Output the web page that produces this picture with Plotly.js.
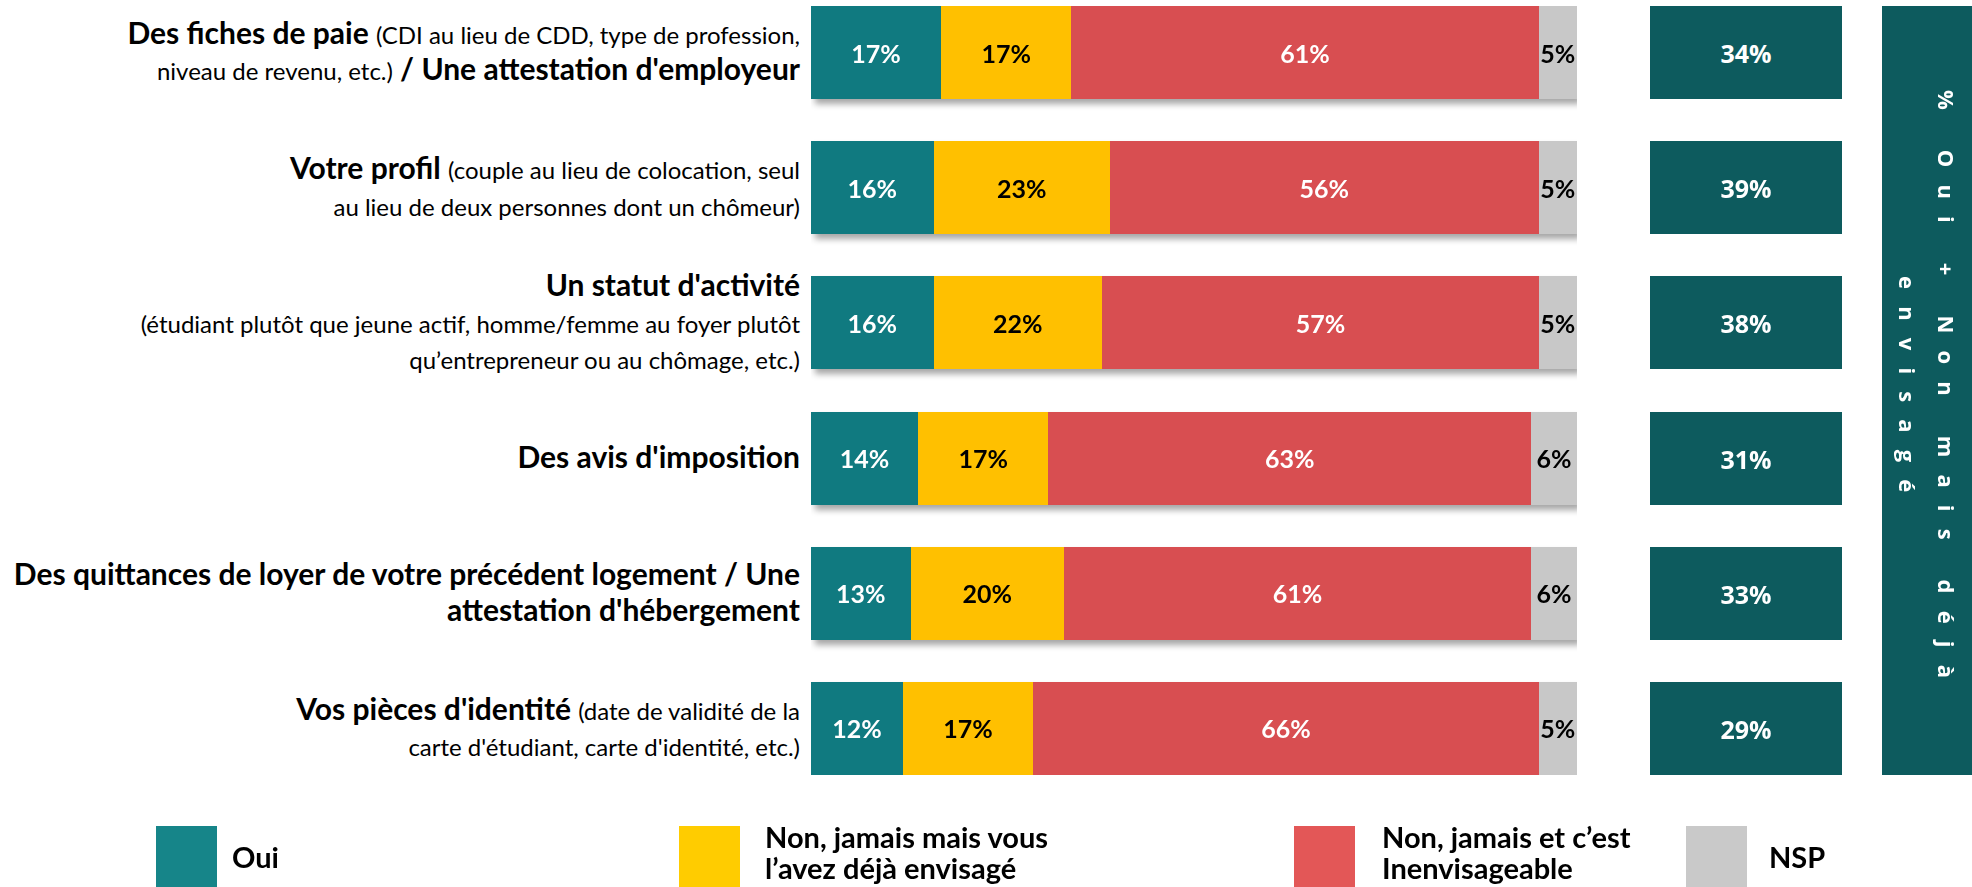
<!DOCTYPE html>
<html>
<head>
<meta charset="utf-8">
<script src="https://cdn.plot.ly/plotly-3.0.1.min.js"></script>
<style>
  html, body { margin: 0; padding: 0; background: #ffffff; }
  #chart { width: 1972px; height: 887px; }
  .cartesianlayer .subplot.xy .barlayer { filter: drop-shadow(4px 5px 3px rgba(0,0,0,0.35)); }
</style>
</head>
<body>
<div id="chart"></div>
<script>
// ---------- DATA ----------
const B = s => "<b><span style='font-size:30px'>" + s + "</span></b>";
const N = s => "<span style='font-size:24px'>" + s + "</span>";
const categories = [
  B("Des fiches de paie") + " " + N("(CDI au lieu de CDD, type de profession,") + "<br>" + N("niveau de revenu, etc.)") + " " + B("/ Une attestation d'employeur"),
  B("Votre profil") + " " + N("(couple au lieu de colocation, seul") + "<br>" + N("au lieu de deux personnes dont un chômeur)"),
  B("Un statut d'activité") + "<br>" + N("(étudiant plutôt que jeune actif, homme/femme au foyer plutôt") + "<br>" + N("qu’entrepreneur ou au chômage, etc.)"),
  B("Des avis d'imposition"),
  B("Des quittances de loyer de votre précédent logement / Une") + "<br>" + B("attestation d'hébergement"),
  B("Vos pièces d'identité") + " " + N("(date de validité de la") + "<br>" + N("carte d'étudiant, carte d'identité, etc.)")
];
const oui            = [17, 16, 16, 14, 13, 12];
const envisage       = [17, 23, 22, 17, 20, 17];
const inenvisageable = [61, 56, 57, 63, 61, 66];
const nsp            = [5, 5, 5, 6, 6, 5];
const totals         = [34, 39, 38, 31, 33, 29];
const seriesNames = ["Oui", "Non, jamais mais vous<br>l’avez déjà envisagé", "Non, jamais et c’est<br>Inenvisageable", "NSP"];
const sideTitle = ["% Oui + Non mais déjà", "envisagé"];

// ---------- STYLE ----------
const W = 1972, H = 887;
const barColors = ["#107A80", "#FFC000", "#D84E51", "#C8C8C8"];
const legendColors = ["#168589", "#FFCC00", "#E35757", "#C9C9C9"];
const labelColors = ["#ffffff", "#000000", "#ffffff", "#000000"];
const totalColor = "#0D5B5E";
const px = v => v / W;
const py = v => 1 - v / H;

const seriesValues = [oui, envisage, inenvisageable, nsp];
const traces = seriesValues.map((vals, k) => ({
  type: "bar",
  orientation: "h",
  y: categories,
  x: vals,
  name: seriesNames[k],
  width: 0.688,
  marker: { color: barColors[k], line: { width: 0 } },
  text: vals.map(v => v + "%"),
  textposition: "inside",
  insidetextanchor: "middle",
  textangle: 0,
  constraintext: "none",
  textfont: { family: "Lato", size: 25, weight: "bold", color: labelColors[k] },
  hoverinfo: "skip",
  showlegend: false
}));

const annotations = [];
// totals boxes
totals.forEach((t, i) => {
  annotations.push({
    xref: "paper", yref: "y", x: px(1746), y: i,
    xanchor: "center", yanchor: "middle",
    text: t + "%", showarrow: false,
    width: 192, height: 93, borderpad: 0, borderwidth: 0,
    bgcolor: totalColor,
    font: { family: "Open Sans", size: 25, weight: "bold", color: "#ffffff" }
  });
});
// side vertical title (letter-spaced)
const spread = s => s.split("").map(c => c === " " ? "\u00a0" : c).join("\u00a0\u00a0\u00a0");
const sideX = [1947, 1908];
sideTitle.forEach((line, j) => {
  annotations.push({
    xref: "paper", yref: "paper", x: px(sideX[j]), y: py(384),
    xanchor: "center", yanchor: "middle", textangle: 90,
    text: spread(line), showarrow: false,
    font: { family: "Open Sans", size: 22, weight: "bold", color: "#ffffff" }
  });
});
// custom legend
const legSq = [156, 679, 1294, 1686];
const legTx = [230, 763, 1380, 1767];
const shapes = [{
  type: "rect", xref: "paper", yref: "paper",
  x0: px(1882), x1: px(1972), y0: py(775), y1: py(6),
  fillcolor: totalColor, line: { width: 0 }, layer: "below"
}];
seriesNames.forEach((nm, k) => {
  shapes.push({
    type: "rect", xref: "paper", yref: "paper",
    x0: px(legSq[k]), x1: px(legSq[k] + 61), y0: py(887), y1: py(826),
    fillcolor: legendColors[k], line: { width: 0 }
  });
  const lines = nm.split("<br>");
  annotations.push({
    xref: "paper", yref: "paper", x: px(legTx[k]), y: py(lines.length === 1 ? 856 : 852),
    xanchor: "left", yanchor: "middle", align: "left", showarrow: false,
    text: lines.map(l => "<span style='font-size:29px'>" + l + "</span>").join("<br>"),
    font: { family: "Lato", size: 24, weight: "bold", color: "#000000" }
  });
});

const layout = {
  width: W, height: H,
  margin: { l: 0, r: 0, t: 0, b: 0, pad: 0 },
  paper_bgcolor: "#ffffff", plot_bgcolor: "rgba(0,0,0,0)",
  barmode: "stack",
  showlegend: false,
  xaxis: {
    domain: [px(811), px(1577)], range: [0, 100],
    showgrid: false, zeroline: false, showticklabels: false, showline: false, ticks: ""
  },
  yaxis: {
    domain: [py(775), py(6)], range: [5.344, -0.344],
    type: "category",
    showgrid: false, zeroline: false, showline: false, ticks: "",
    ticklabelstandoff: 10,
    tickfont: { family: "Lato", size: 28, color: "#000000" }
  },
  annotations: annotations,
  shapes: shapes
};

Plotly.newPlot("chart", traces, layout, { displayModeBar: false, staticPlot: true });
</script>
</body>
</html>
